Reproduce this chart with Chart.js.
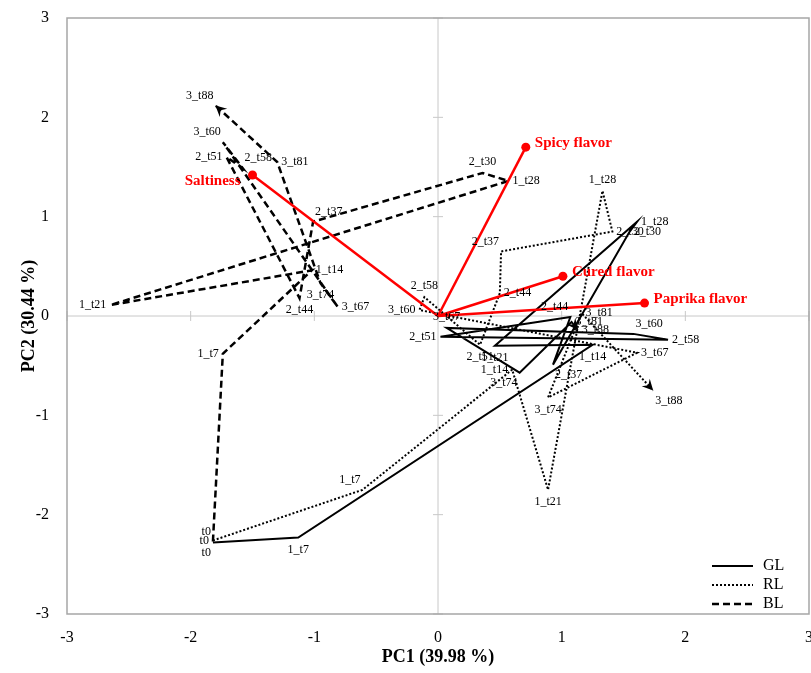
<!DOCTYPE html>
<html>
<head>
<meta charset="utf-8">
<script src="https://cdn.jsdelivr.net/npm/chart.js@4.4.1/dist/chart.umd.min.js"></script>
<style>
  html, body { margin: 0; padding: 0; background: #fff; }
  #wrap { width: 811px; height: 673px; }
</style>
</head>
<body>
<div id="wrap"><canvas id="pca-chart"></canvas></div>
<script>
// sampling points (same order for the three series)
const timeLabels = ['t0', '1_t7', '1_t14', '1_t21', '1_t28', '2_t30', '2_t37', '2_t44',
    '2_t51', '2_t58', '3_t60', '3_t67', '3_t74', '3_t81', '3_t88'];

// GL scores
const glX = [-1.82, -1.13, 1.25, 0.46, 1.61, 1.55, 0.93, 1.07, 0.02, 1.86, 1.58, 0.07, 0.66, 1.08, 1.13];
const glY = [-2.28, -2.23, -0.29, -0.30, 0.95, 0.85, -0.49, -0.01, -0.21, -0.24, -0.18, -0.12, -0.57, -0.06, -0.14];

// RL scores
const rlX = [-1.82, -0.61, 0.60, 0.89, 1.33, 1.41, 0.51, 0.50, 0.34, -0.11, -0.15, 1.61, 0.89, 1.16, 1.74];
const rlY = [-2.26, -1.75, -0.54, -1.75, 1.26, 0.85, 0.65, 0.23, -0.29, 0.19, 0.06, -0.37, -0.82, 0.03, -0.75];

// BL scores
const blX = [-1.82, -1.74, -1.02, -2.65, 0.57, 0.36, -1.01, -1.12, -1.71, -1.58, -1.74, -0.81, -0.95, -1.30, -1.80];
const blY = [-2.27, -0.38, 0.46, 0.11, 1.36, 1.44, 0.95, 0.18, 1.60, 1.49, 1.75, 0.09, 0.33, 1.55, 2.12];

// sensory loadings
const loadingNames = ['Saltiness', 'Spicy flavor', 'Cured flavor', 'Paprika flavor'];
const loadingX = [-1.50, 0.71, 1.01, 1.67];
const loadingY = [1.42, 1.70, 0.40, 0.13];

const tickValues = [-3, -2, -1, 0, 1, 2, 3];

// where each point label sits around its point
const labelSpots = {
    GL: ['bl', 'b', 'b', 'b', 'r', 'r', 'br', 'al', 'l', 'r', 'ar', 'a', 'bl', 'r', 'r'],
    RL: ['l', 'al', 'l', 'b', 'a', 'r', 'al', 'r', 'b', 'a', 'l', 'r', 'b', 'r', 'br'],
    BL: ['al', 'l', 'r', 'l', 'r', 'a', 'ar', 'b', 'l', 'ar', 'al', 'r', 'b', 'r', 'al']
};

const SERIF = '"Liberation Serif", "Times New Roman", serif';

function toPoints(xs, ys) {
    return xs.map((x, i) => ({ x: x, y: ys[i] }));
}

const datasets = [];

// red vectors first so they sit on top
loadingNames.forEach((name, i) => {
    datasets.push({
        label: name,
        kind: 'loading',
        data: [{ x: 0, y: 0 }, { x: loadingX[i], y: loadingY[i] }],
        showLine: true,
        borderColor: '#ff0000',
        backgroundColor: '#ff0000',
        borderWidth: 2.5,
        pointRadius: [0, 4.5],
        pointBorderWidth: 0
    });
});

const series = [
    { name: 'GL', xs: glX, ys: glY, dash: [], width: 2 },
    { name: 'RL', xs: rlX, ys: rlY, dash: [2, 2], width: 2 },
    { name: 'BL', xs: blX, ys: blY, dash: [7, 4], width: 2.5 }
];

series.forEach(s => {
    datasets.push({
        label: s.name,
        kind: 'score',
        data: toPoints(s.xs, s.ys),
        showLine: true,
        borderColor: '#000',
        borderWidth: s.width,
        borderDash: s.dash,
        pointRadius: 0,
        tension: 0
    });
});

function spotOffset(code) {
    switch (code) {
        case 'l': return [-4, 0, 'right', 'middle'];
        case 'r': return [4, 0, 'left', 'middle'];
        case 'a': return [0, -5, 'center', 'bottom'];
        case 'b': return [0, 6, 'center', 'top'];
        case 'al': return [-2, -4, 'right', 'bottom'];
        case 'ar': return [2, -4, 'left', 'bottom'];
        case 'bl': return [-2, 4, 'right', 'top'];
        case 'br': return [2, 4, 'left', 'top'];
    }
    return [4, 0, 'left', 'middle'];
}

const biplotDecor = {
    id: 'biplotDecor',
    beforeDatasetsDraw(chart) {
        const { ctx, chartArea: a, scales: { x, y } } = chart;
        const x0 = x.getPixelForValue(0);
        const y0 = y.getPixelForValue(0);
        ctx.save();
        // zero lines with cross ticks
        ctx.strokeStyle = '#c8c8c8';
        ctx.lineWidth = 1;
        ctx.beginPath();
        ctx.moveTo(x0, a.top); ctx.lineTo(x0, a.bottom);
        ctx.moveTo(a.left, y0); ctx.lineTo(a.right, y0);
        tickValues.forEach(v => {
            if (v === 0) return;
            const px = x.getPixelForValue(v);
            const py = y.getPixelForValue(v);
            ctx.moveTo(px, y0 - 5); ctx.lineTo(px, y0 + 5);
            ctx.moveTo(x0 - 5, py); ctx.lineTo(x0 + 5, py);
        });
        ctx.stroke();
        // frame
        ctx.strokeStyle = '#a6a6a6';
        ctx.lineWidth = 1.5;
        ctx.strokeRect(a.left, a.top, a.right - a.left, a.bottom - a.top);
        ctx.restore();
    },
    afterDatasetsDraw(chart) {
        const { ctx } = chart;
        ctx.save();
        chart.data.datasets.forEach((ds, di) => {
            const meta = chart.getDatasetMeta(di);
            if (ds.kind === 'score') {
                // arrow head on the last point
                const pts = meta.data;
                const p1 = pts[pts.length - 2], p2 = pts[pts.length - 1];
                const ang = Math.atan2(p2.y - p1.y, p2.x - p1.x);
                ctx.save();
                ctx.translate(p2.x, p2.y);
                ctx.rotate(ang);
                ctx.fillStyle = '#000';
                ctx.beginPath();
                ctx.moveTo(0, 0);
                ctx.lineTo(-11, -5.5);
                ctx.lineTo(-7, 0);
                ctx.lineTo(-11, 5.5);
                ctx.closePath();
                ctx.fill();
                ctx.restore();
                // point labels
                ctx.font = '12px ' + SERIF;
                ctx.fillStyle = '#000';
                const spots = labelSpots[ds.label];
                pts.forEach((p, i) => {
                    const [dx, dy, al, bl] = spotOffset(spots[i]);
                    ctx.textAlign = al;
                    ctx.textBaseline = bl;
                    ctx.fillText(timeLabels[i], p.x + dx, p.y + dy);
                });
            } else if (ds.kind === 'loading') {
                const p = meta.data[1];
                ctx.font = 'bold 15px ' + SERIF;
                ctx.fillStyle = '#ff0000';
                ctx.textBaseline = 'middle';
                if (p.x < chart.scales.x.getPixelForValue(0)) {
                    ctx.textAlign = 'right';
                    ctx.fillText(ds.label, p.x - 12, p.y + 6);
                } else {
                    ctx.textAlign = 'left';
                    ctx.fillText(ds.label, p.x + 9, p.y - 4);
                }
            }
        });
        // legend in the lower right corner
        const lx = 712, lw = 41;
        series.forEach((s, i) => {
            const ly = 566 + i * 19;
            ctx.strokeStyle = '#000';
            ctx.lineWidth = s.width;
            ctx.setLineDash(s.dash);
            ctx.beginPath();
            ctx.moveTo(lx, ly); ctx.lineTo(lx + lw, ly);
            ctx.stroke();
            ctx.setLineDash([]);
            ctx.font = '16px ' + SERIF;
            ctx.fillStyle = '#000';
            ctx.textAlign = 'left';
            ctx.textBaseline = 'middle';
            ctx.fillText(s.name, lx + 51, ly);
        });
        ctx.restore();
    }
};

const config = {
    type: 'scatter',
    data: { datasets: datasets },
    options: {
        responsive: true,
        maintainAspectRatio: false,
        animation: false,
        devicePixelRatio: 1,
        layout: { autoPadding: false, padding: { top: 18, right: 2, bottom: 0, left: 0 } },
        plugins: {
            legend: { display: false },
            tooltip: { enabled: false }
        },
        scales: {
            x: {
                type: 'linear',
                min: -3,
                max: 3,
                afterFit: s => { s.height = 59; s.paddingLeft = 0; s.paddingRight = 0; },
                afterBuildTicks: s => { s.ticks = tickValues.map(v => ({ value: v })); },
                grid: { display: false, drawTicks: false },
                border: { display: false },
                ticks: {
                    padding: 14,
                    color: '#000',
                    font: { family: SERIF, size: 16 }
                },
                title: {
                    display: true,
                    text: 'PC1 (39.98 %)',
                    color: '#000',
                    font: { family: SERIF, size: 18, weight: 'bold' },
                    padding: { top: 0, bottom: 5 }
                }
            },
            y: {
                type: 'linear',
                min: -3,
                max: 3,
                afterFit: s => { s.width = 67; s.paddingTop = 0; s.paddingBottom = 0; },
                afterBuildTicks: s => { s.ticks = tickValues.map(v => ({ value: v })); },
                grid: { display: false, drawTicks: false },
                border: { display: false },
                ticks: {
                    padding: 18,
                    color: '#000',
                    font: { family: SERIF, size: 16 }
                },
                title: {
                    display: true,
                    text: 'PC2 (30.44 %)',
                    color: '#000',
                    font: { family: SERIF, size: 18, weight: 'bold' },
                    padding: { top: 19, bottom: 0 }
                }
            }
        }
    },
    plugins: [biplotDecor]
};

const ctx = document.getElementById('pca-chart').getContext('2d');
new Chart(ctx, config);
</script>
</body>
</html>
